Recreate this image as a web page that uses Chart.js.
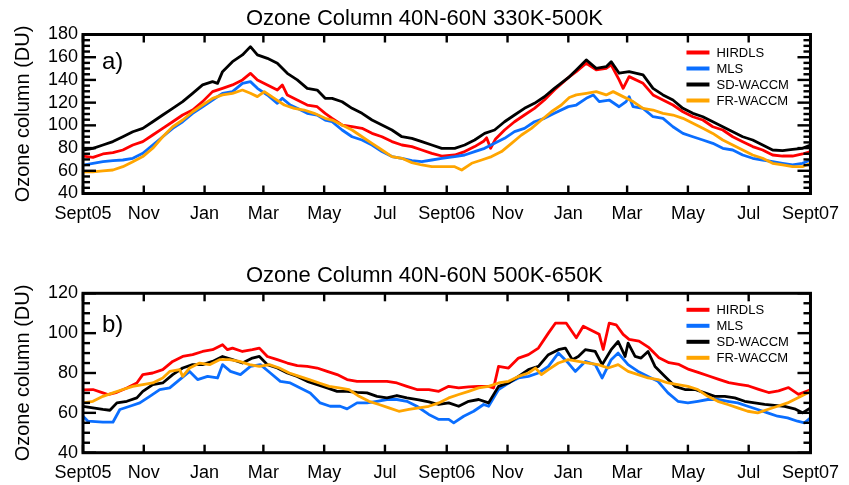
<!DOCTYPE html>
<html>
<head>
<meta charset="utf-8">
<title>Ozone Column 40N-60N</title>
<script src="https://cdn.jsdelivr.net/npm/chart.js@4/dist/chart.umd.min.js"></script>
<style>
  html, body { margin: 0; padding: 0; background: #fff; }
  #wrap { position: relative; width: 849px; height: 485px; }
  canvas { position: absolute; left: 0; display: block; }
  #frames { top: 0; pointer-events: none; }
</style>
</head>
<body>
<div id="wrap">
  <canvas id="panelA" width="849" height="245" style="top:0"></canvas>
  <canvas id="panelB" width="849" height="240" style="top:245px"></canvas>
  <canvas id="frames" width="849" height="485"></canvas>
</div>
<script>
// Days since 1 Sept 2005 for each labelled month, and their labels
const monthDays   = [0, 61, 122, 181, 242, 303, 365, 426, 487, 546, 607, 668, 730];
const monthLabels = ['Sept05', 'Nov', 'Jan', 'Mar', 'May', 'Jul', 'Sept06', 'Nov', 'Jan', 'Mar', 'May', 'Jul', 'Sept07'];

const seriesNames  = ['HIRDLS', 'MLS', 'SD-WACCM', 'FR-WACCM'];
const seriesColors = ['#ff0000', 'rgb(10,110,255)', '#000000', 'rgb(255,165,0)'];

// Panel a: 330K-500K column (DU), [day, value]
const hirdlsA = [[0,73],[10,71.8],[20,74.8],[30,76],[40,78.3],[50,82.7],[60,85.7],[70,91.5],[80,97.4],[90,103.2],[100,109.1],[110,113.5],[120,120.9],[130,129.7],[140,132.6],[150,135.6],[160,140],[168,145.8],[175,140],[185,135.6],[195,131.1],[200,135.6],[205,126.7],[215,122.3],[225,117.9],[235,116.4],[243,110.6],[250,106.2],[260,100.3],[270,98.8],[280,97.4],[290,93],[300,90],[310,85.7],[320,82.7],[330,81.3],[340,78.3],[350,75.4],[360,73],[373,73.9],[383,76.9],[393,81.3],[402,86],[405,89],[409,79.8],[414,88],[423,95.9],[433,103.2],[443,109.1],[453,115],[463,122.3],[473,131.1],[487,142],[495,147.3],[505,154.7],[515,148.8],[525,150.2],[530,153.2],[538,140],[542,132.6],[548,142.9],[562,137],[572,126.8],[582,122.3],[592,117.9],[602,112],[612,107.6],[622,104.7],[632,98.8],[642,95.9],[652,90],[662,85.6],[672,81.3],[682,78.3],[692,73.9],[702,73],[712,73],[722,74.8],[730,76.9]];
const mlsA = [[0,65],[10,66.5],[20,68],[30,69],[40,69.5],[50,71],[60,75.4],[70,82.7],[80,90],[90,97.4],[100,103.2],[110,110.6],[120,116.4],[130,122.3],[140,128.2],[150,129.7],[160,137],[168,138.5],[175,132.6],[185,126.7],[195,119.4],[200,123.8],[208,117.9],[215,115],[225,110.6],[235,109.1],[243,104.7],[250,103.2],[260,95.9],[270,90],[280,87.1],[290,82.7],[300,76.9],[310,72.5],[320,71],[330,69],[340,68.1],[350,69.5],[360,71],[373,72.5],[383,73.9],[393,76.9],[403,79.8],[413,84.2],[423,88.6],[433,94.5],[443,97.4],[453,103.2],[463,106.2],[473,110.6],[487,116.5],[495,117.9],[505,123.8],[512,126.8],[518,120.9],[528,122.3],[538,116.4],[545,120.9],[548,125.3],[552,116.4],[562,115],[572,107.6],[582,106.2],[592,98.8],[602,92.9],[612,90],[622,87.1],[632,84.2],[642,79.8],[652,78.3],[662,73.9],[672,71],[682,69.5],[692,68.1],[702,66.6],[712,65.1],[722,66.6],[730,69.5]];
const sdA = [[0,78.3],[10,79.8],[20,82.7],[30,85.7],[40,90],[50,94.4],[60,97.4],[70,103.2],[80,109.1],[90,115],[100,120.9],[110,128.2],[120,135.6],[130,138.5],[135,137],[140,147.3],[150,156.1],[160,162],[168,169.3],[175,162],[185,159],[195,154.7],[205,145.8],[215,140],[225,132.6],[235,131.1],[243,123.8],[250,123.7],[260,120.8],[270,115],[280,110.6],[290,104.7],[300,100.3],[310,95.9],[320,90],[330,88.6],[340,85.7],[350,82.7],[360,79.8],[373,79.8],[383,82.7],[393,87.1],[403,93],[413,95.9],[423,103.2],[433,109.1],[443,115],[453,119.4],[463,125.2],[473,132.5],[487,142],[495,148.8],[505,157.6],[515,150.2],[525,151.7],[530,156.1],[538,145.9],[548,147.3],[562,144.4],[572,132.6],[582,126.8],[592,122.3],[602,115],[612,110.6],[622,107.6],[632,103.2],[642,98.8],[652,94.4],[662,90],[672,87.1],[682,82.7],[692,78.3],[702,77.7],[712,78.9],[722,79.8],[730,82.7]];
const frA = [[0,59.1],[10,59.1],[20,60],[30,60.7],[40,63.6],[50,68],[60,72.5],[70,79.8],[80,90],[90,98.8],[100,104.7],[110,112],[120,117.9],[130,123.8],[140,126.8],[150,128.2],[160,131.1],[168,128.2],[175,125.3],[182,129.7],[192,123.8],[202,117.9],[212,115],[222,113.5],[232,110.6],[243,106.2],[250,104.7],[260,100.3],[270,95.9],[280,90],[290,84.2],[300,78.3],[310,72.5],[320,71],[330,67.2],[340,65.1],[350,63.6],[360,63.6],[373,63.6],[380,60.7],[390,66.6],[400,69.5],[410,72.5],[420,76.9],[430,84.2],[440,91.5],[450,97.4],[460,104.7],[470,112],[480,117.9],[488,124.5],[495,126.8],[505,128.2],[515,129.7],[525,126.8],[532,129.7],[542,125.3],[552,120.9],[562,115],[572,113.5],[582,110.6],[592,109.1],[602,106.2],[612,101.8],[622,97.4],[632,92.9],[642,87.1],[652,82.7],[662,78.3],[672,73.9],[682,71],[692,66.6],[702,65.1],[712,63.6],[722,63.6],[730,66.6]];

// Panel b: 500K-650K column (DU), [day, value]
const hirdlsB = [[0,71.5],[10,71.7],[20,70],[25,69.2],[34,70.3],[44,72.5],[54,75],[60,79.2],[70,80],[80,81.7],[90,85.8],[100,88.3],[110,89.2],[120,90.8],[130,91.7],[140,94.2],[145,91.7],[150,92.5],[160,90.8],[170,91.7],[177,92.5],[185,88.3],[195,86.7],[205,85],[215,83.7],[225,83.3],[235,82.5],[245,80.8],[255,79.2],[265,76.7],[275,75.8],[285,75.8],[295,75.8],[305,75.8],[315,75],[325,73.3],[335,71.7],[347,71.7],[357,70.8],[367,73.3],[377,72.5],[387,73],[397,73.3],[407,73.3],[412,72.5],[417,83.3],[427,82.5],[437,87.5],[447,89.2],[457,92.5],[467,100],[474,105],[485,105],[495,97.7],[502,103.5],[512,101],[518,99.4],[522,91.8],[528,105],[535,104.2],[542,99.4],[548,96.9],[558,96],[568,92.7],[578,87.7],[588,85.2],[598,84.3],[608,81.8],[618,80.2],[628,78.5],[638,76.8],[648,75.2],[658,74.3],[668,73.5],[678,71.8],[688,70.2],[698,71],[708,72.7],[718,69.3],[730,71.5]];
const mlsB = [[0,58.3],[5,55.8],[20,55.3],[30,55.3],[37,61.7],[47,63.3],[57,65],[67,68.3],[77,71.7],[87,72.5],[97,76.7],[107,80.8],[115,76.7],[125,78.3],[135,77.5],[140,84.2],[148,80.8],[158,79.2],[168,83.3],[178,84.2],[188,80],[198,75.8],[208,75],[218,72.5],[228,70],[238,65],[248,63.3],[258,63.3],[265,62],[275,65],[285,65],[295,65.8],[305,66.7],[315,66.7],[325,65.8],[335,63.3],[347,59.2],[357,56.7],[367,56.7],[372,55],[382,58.3],[392,60.8],[402,64.2],[407,63.3],[417,71.7],[427,75],[437,77.5],[447,78.3],[457,80],[467,83.3],[477,90],[487,85],[494,80.8],[504,85.8],[514,84.2],[521,77.5],[530,86.7],[537,90],[547,84.2],[557,80.8],[567,78.3],[577,75.8],[587,70],[597,65.8],[607,65],[617,65.8],[627,66.7],[637,66.7],[647,65.8],[657,65],[667,63.3],[677,61.7],[687,60],[697,58.3],[707,57.5],[717,55.8],[724,55],[730,57.5]];
const sdB = [[0,63.3],[10,62.5],[20,61.7],[27,61.3],[34,65],[44,65.8],[54,67.5],[60,70.8],[70,74.2],[80,75],[90,79.2],[100,82.5],[110,84.2],[120,84.2],[130,85.8],[140,88.3],[150,86.7],[160,85],[170,87.5],[177,88.3],[185,84.2],[195,82.5],[205,80],[215,78.3],[225,75.8],[235,74.2],[245,72.5],[255,70.8],[265,70.8],[275,70.3],[285,70],[295,68.3],[305,67.5],[315,68.7],[325,67.5],[337,66.5],[347,65.5],[357,64.2],[367,65],[377,63.3],[387,65.8],[397,66.7],[407,65],[417,73.3],[427,75],[437,78.3],[447,81.7],[457,83.3],[467,89.2],[477,91.7],[484,92.5],[491,86.7],[497,88.3],[504,91.7],[514,90.8],[521,84.2],[530,91.7],[537,95.8],[544,88.3],[547,95],[554,88.3],[560,87.5],[567,90.8],[574,83.3],[584,78.3],[594,73.3],[604,71.7],[614,71.7],[624,70],[634,68.3],[644,68.3],[654,67.5],[664,65.8],[674,65],[684,64.2],[694,63.7],[704,63.3],[714,62],[722,60],[730,62.5]];
const frB = [[0,65],[10,65.8],[20,68.3],[30,70],[40,71.7],[50,73.3],[60,74.2],[70,75],[80,77.5],[87,80.8],[97,81.7],[100,78.3],[107,82.5],[117,85],[127,84.2],[137,86.7],[147,86.7],[157,85.8],[167,84.2],[177,83.3],[187,84.2],[197,82.5],[207,80],[217,78.3],[227,76.7],[237,75],[247,73.3],[257,72.5],[267,71.7],[277,68.3],[287,65.8],[297,64.2],[307,62.5],[317,60.8],[327,61.7],[337,62.5],[347,63.3],[357,65],[367,67.5],[377,69.2],[387,70.8],[397,72.5],[407,73.3],[417,75],[427,75.8],[437,78.3],[447,80],[454,82.5],[460,79.2],[467,81.7],[477,85],[487,86.7],[497,85.8],[507,85],[517,84.2],[527,82.5],[537,84.2],[547,80.8],[557,79.2],[567,77.5],[577,76.7],[587,75],[597,74.2],[607,73.3],[617,71.7],[627,68.3],[637,65.8],[647,64.2],[657,62.5],[667,60.8],[677,60],[687,61.7],[697,63.3],[707,65],[717,67.5],[727,70],[730,71]];

const FONT = '"Liberation Sans", Arial, Helvetica, sans-serif';
const DAY_SPAN = 730;

// Legend in the upper right corner and the panel tag in the upper left corner
const idlLegend = {
  id: 'idlLegend',
  afterDraw(chart, args, opts) {
    const ctx = chart.ctx;
    const { top, left, right } = chart.chartArea;
    ctx.save();
    ctx.font = '13px ' + FONT;
    ctx.textBaseline = 'middle';
    ctx.textAlign = 'left';
    chart.data.datasets.forEach((ds, i) => {
      const ly = top + opts.legendTop + i * 16;
      ctx.strokeStyle = ds.borderColor;
      ctx.lineWidth = 4;
      ctx.beginPath();
      ctx.moveTo(right - 124, ly);
      ctx.lineTo(right - 101, ly);
      ctx.stroke();
      ctx.fillStyle = '#000';
      ctx.fillText(ds.label, right - 94, ly + 0.5);
    });
    ctx.font = '24px ' + FONT;
    ctx.fillStyle = '#000';
    ctx.fillText(opts.tag, left + 19, top + opts.tagY);
    ctx.restore();
  }
};

function makePanel(id, titleText, yMin, yMax, series, geo) {
  const datasets = series.map((pts, i) => ({
    label: seriesNames[i],
    data: pts.map(([d, v]) => ({ x: d, y: v })),
    borderColor: seriesColors[i],
    backgroundColor: seriesColors[i],
    borderWidth: 2.8,
    pointRadius: 0,
    tension: 0,
    borderJoinStyle: 'round',
    order: series.length - i
  }));
  return new Chart(document.getElementById(id), {
    type: 'line',
    data: { datasets },
    plugins: [idlLegend],
    options: {
      responsive: false,
      animation: false,
      events: [],
      layout: { padding: 0 },
      plugins: {
        legend: { display: false },
        tooltip: { enabled: false },
        title: {
          display: true,
          text: titleText,
          color: '#000',
          font: { family: FONT, size: 22, weight: 'normal' },
          padding: geo.titlePad
        },
        idlLegend: { legendTop: geo.legendTop, tag: geo.tag, tagY: geo.tagY }
      },
      scales: {
        x: {
          type: 'linear',
          min: 0,
          max: DAY_SPAN,
          afterBuildTicks: s => { s.ticks = monthDays.map(v => ({ value: v })); },
          afterFit: s => { s.height = geo.xHeight; },
          grid: { display: false, drawTicks: false },
          border: { display: false },
          ticks: {
            autoSkip: false,
            maxRotation: 0,
            padding: 10,
            color: '#000',
            font: { family: FONT, size: 18 },
            callback: v => monthLabels[monthDays.indexOf(v)]
          }
        },
        y: {
          min: yMin,
          max: yMax,
          afterFit: s => { s.width = 83; },
          grid: { display: false, drawTicks: false },
          border: { display: false },
          ticks: {
            stepSize: 20,
            autoSkip: false,
            padding: 5,
            color: '#000',
            font: { family: FONT, size: 18 }
          },
          title: {
            display: true,
            text: 'Ozone column (DU)',
            color: '#000',
            font: { family: FONT, size: 20 },
            padding: { top: 11, bottom: 0 }
          }
        },
        // empty right-hand axis that reserves the margin on the right
        yRight: {
          position: 'right',
          min: yMin,
          max: yMax,
          afterFit: s => { s.width = 36; },
          grid: { display: false, drawTicks: false },
          border: { display: false },
          ticks: { display: false }
        }
      }
    }
  });
}

const chartA = makePanel('panelA', 'Ozone Column 40N-60N 330K-500K', 40, 180,
  [hirdlsA, mlsA, sdA, frA],
  { titlePad: { top: 5.5, bottom: 2.6 }, xHeight: 51.5, legendTop: 18, tag: 'a)', tagY: 27.5 });

const chartB = makePanel('panelB', 'Ozone Column 40N-60N 500K-650K', 40, 120,
  [hirdlsB, mlsB, sdB, frB],
  { titlePad: { top: 18, bottom: 3.9 }, xHeight: 32.3, legendTop: 16.5, tag: 'b)', tagY: 31.7 });

// Box frames with inward tick marks, placed from each chart's own scales
function drawFrame(ctx, chart, offsetY) {
  const area = chart.chartArea;
  const xs = chart.scales.x;
  const ys = chart.scales.y;
  const left = area.left, right = area.right;
  const top = area.top + offsetY, bottom = area.bottom + offsetY;
  ctx.fillStyle = '#000';
  for (let v = ys.min; v <= ys.max + 1e-9; v += 5) {
    const py = ys.getPixelForValue(v) + offsetY;
    const len = (Math.round(v) % 20 === 0) ? 13 : 7;
    ctx.fillRect(left, py - 1.2, len, 2.4);
    ctx.fillRect(right - len, py - 1.2, len, 2.4);
  }
  for (const d of monthDays) {
    const px = xs.getPixelForValue(d);
    ctx.fillRect(px - 1.2, bottom - 8, 2.4, 8);
    ctx.fillRect(px - 1.2, top, 2.4, 8);
  }
  ctx.strokeStyle = '#000';
  ctx.lineWidth = 3;
  ctx.strokeRect(left, top, right - left, bottom - top);
}

const frameCtx = document.getElementById('frames').getContext('2d');
drawFrame(frameCtx, chartA, 0);
drawFrame(frameCtx, chartB, 245);
</script>
</body>
</html>
